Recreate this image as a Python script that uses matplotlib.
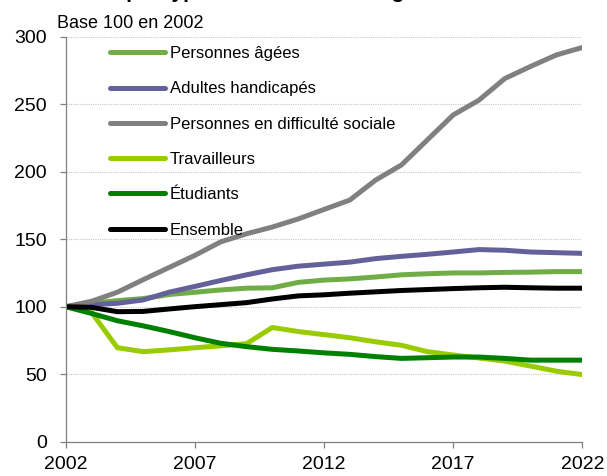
import matplotlib.pyplot as plt

plt.rcParams["font.family"] = ["Liberation Sans", "DejaVu Sans"]

# Values (base 100 in 2002)
years = list(range(2002, 2023))
personnes_agees = [100, 102.5, 104.5, 106, 109, 110.7, 112.4, 113.7, 114, 118, 119.7,
                   120.6, 122, 123.6, 124.4, 125, 125, 125.4, 125.6, 126, 126]
adultes_handicapes = [100, 101.5, 102.5, 105, 110.7, 115, 119.4, 123.6, 127.4, 130, 131.5,
                      133, 135.6, 137.3, 138.8, 140.5, 142.3, 141.8, 140.5, 140, 139.5]
difficulte_sociale = [100, 104, 110.7, 120, 129, 138, 148, 154, 159, 165, 172,
                      179, 193.8, 205, 223.5, 242, 253, 269, 278, 286.5, 292]
travailleurs = [100, 95.8, 69.6, 66.7, 68, 69.6, 71, 72.6, 84.6, 81.6, 79.3,
                77, 74, 71.4, 66.7, 64.2, 62, 59.7, 56, 52.2, 49.7]
etudiants = [100, 95, 89.6, 85.8, 81.6, 77, 72.9, 70.4, 68.4, 67.2, 65.8,
             64.7, 63, 61.7, 62.2, 62.7, 62.7, 61.7, 60.4, 60.4, 60.4]
ensemble = [100, 99.5, 96.3, 96.5, 98.3, 100, 101.5, 103, 105.7, 108, 108.8,
            110, 111, 112, 112.7, 113.4, 114, 114.4, 114, 113.7, 113.7]

series = [
    ("Personnes âgées", personnes_agees, "#70AD47"),
    ("Adultes handicapés", adultes_handicapes, "#64619A"),
    ("Personnes en difficulté sociale", difficulte_sociale, "#808080"),
    ("Travailleurs", travailleurs, "#99CC00"),
    ("Étudiants", etudiants, "#008000"),
    ("Ensemble", ensemble, "#000000"),
]

fig = plt.figure(figsize=(6.07, 4.76), dpi=100)
ax = fig.add_axes([0.1082, 0.0721, 0.8511, 0.8508])

for label, values, color in series:
    ax.plot(years, values, color=color, linewidth=3.6, label=label,
            solid_capstyle="round", solid_joinstyle="round")

ax.set_xlim(2002, 2022)
ax.set_ylim(0, 300)
ax.set_xticks([2002, 2007, 2012, 2017, 2022])
ax.set_yticks([0, 50, 100, 150, 200, 250, 300])

ax.grid(axis="y", color="#c8c8c8", linestyle=(0, (1, 1)), linewidth=0.8)
ax.set_axisbelow(True)
for side in ["top", "right"]:
    ax.spines[side].set_visible(False)
for side in ["left", "bottom"]:
    ax.spines[side].set_color("#808080")
    ax.spines[side].set_linewidth(0.9)
ax.tick_params(axis="both", direction="out", length=4.5, width=0.9,
               color="#808080", labelsize=14, labelcolor="black")
ax.tick_params(axis="y", pad=9)
ax.tick_params(axis="x", pad=6)

ax.legend(loc="upper left", bbox_to_anchor=(110 / 607, 1 - 46 / 476),
          bbox_transform=fig.transFigure, frameon=False, fontsize=12,
          handlelength=3.3, handletextpad=0.3, labelspacing=1.22,
          borderpad=0, borderaxespad=0)

fig.text(57 / 607, 1 - 28 / 476, "Base 100 en 2002", fontsize=13,
         va="baseline", ha="left")
# title is mostly clipped by the top edge in the reference
fig.text(25 / 607, 1 + 2 / 476, "Évolution par type de résidents en logement collectif",
         fontsize=15, fontweight="bold", va="baseline", ha="left")

plt.savefig("out.png", dpi=100)
